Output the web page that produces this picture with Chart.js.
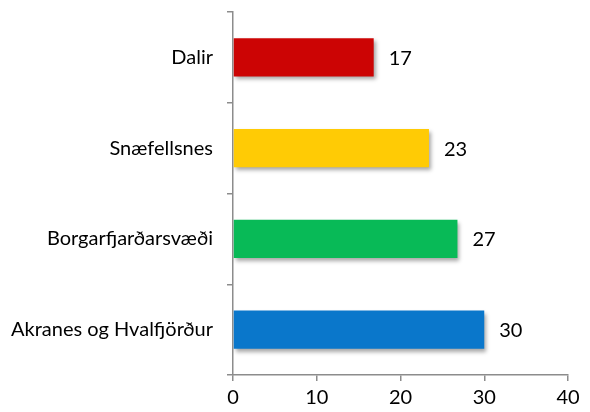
<!DOCTYPE html>
<html>
<head>
<meta charset="utf-8">
<script src="https://cdn.jsdelivr.net/npm/chart.js@4"></script>
<style>
  html, body { margin: 0; padding: 0; background: #fff; }
  #wrap { width: 590px; height: 412px; }
</style>
</head>
<body>
<div id="wrap"><canvas id="chart" width="590" height="412"></canvas></div>
<script>
// ─── Data ───
const regions = ['Dalir', 'Snæfellsnes', 'Borgarfjarðarsvæði', 'Akranes og Hvalfjörður'];
const values = [16.8, 23.4, 26.8, 30.0];
const barColors = ['#CC0404', '#FFCB05', '#08BA57', '#0A77CB'];
const xTicks = [0, 10, 20, 30, 40];

const FONT = 'Lato, "Open Sans", sans-serif';
const axisGrey = '#8C8C8C';

// soft drop shadow under the bars
const barShadow = {
    id: 'barShadow',
    beforeDatasetsDraw(chart) {
        const ctx = chart.ctx;
        ctx.save();
        ctx.shadowColor = 'rgba(0,0,0,0.35)';
        ctx.shadowBlur = 4;
        ctx.shadowOffsetX = 2;
        ctx.shadowOffsetY = 3;
    },
    afterDatasetsDraw(chart) {
        chart.ctx.restore();
    }
};

// value labels to the right of each bar
const valueLabels = {
    id: 'valueLabels',
    afterDatasetsDraw(chart) {
        const ctx = chart.ctx;
        const meta = chart.getDatasetMeta(0);
        ctx.save();
        ctx.font = '20px ' + FONT;
        ctx.fillStyle = '#000';
        ctx.textAlign = 'left';
        ctx.textBaseline = 'middle';
        meta.data.forEach((bar, i) => {
            ctx.fillText(Math.round(values[i]).toString(), bar.x + 15, bar.y + 1);
        });
        ctx.restore();
    }
};

new Chart(document.getElementById('chart'), {
    type: 'bar',
    data: {
        labels: regions,
        datasets: [{
            data: values,
            backgroundColor: barColors,
            borderWidth: 0,
            categoryPercentage: 0.42,
            barPercentage: 1
        }]
    },
    options: {
        indexAxis: 'y',
        responsive: false,
        animation: false,
        layout: { padding: { top: 12, right: 22, left: 0, bottom: 0 } },
        plugins: { legend: { display: false }, tooltip: { enabled: false } },
        scales: {
            x: {
                min: xTicks[0],
                max: xTicks[xTicks.length - 1],
                afterBuildTicks: s => { s.ticks = xTicks.map(v => ({ value: v })); },
                afterFit: s => { s.height = 37; },
                border: { color: axisGrey, width: 1.5 },
                grid: { drawOnChartArea: false, drawTicks: true, tickLength: 6, color: axisGrey, lineWidth: 1.5 },
                ticks: { color: '#000', font: { family: FONT, size: 20 }, padding: 5, maxRotation: 0 }
            },
            y: {
                afterFit: s => { s.width = 233; s.paddingTop = 0; s.paddingBottom = 0; },
                border: { color: axisGrey, width: 1.5 },
                grid: { drawOnChartArea: false, drawTicks: true, tickLength: 6, color: axisGrey, lineWidth: 1.5, offset: true },
                ticks: { color: '#000', font: { family: FONT, size: 20 }, padding: 14 }
            }
        }
    },
    plugins: [barShadow, valueLabels]
});
</script>
</body>
</html>
